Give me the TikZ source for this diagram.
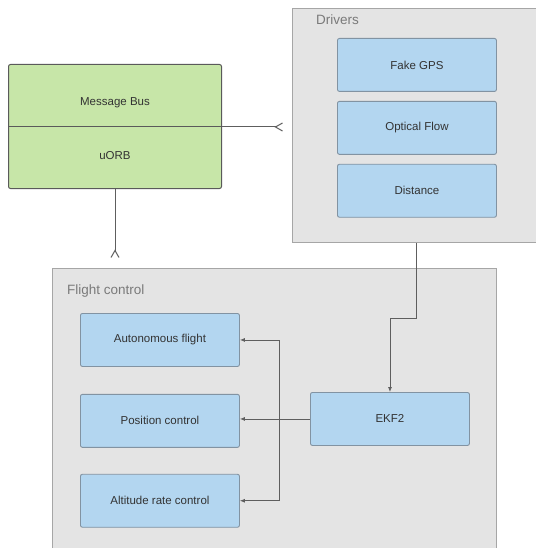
\documentclass[tikz,border=0pt]{standalone}
\usepackage{xcolor}
\usepackage{fontspec}
\setmainfont{Liberation Sans}
\usepackage{tikz}
\usetikzlibrary{arrows.meta,positioning}
\definecolor{busgreen}{HTML}{C7E6A8}
\definecolor{busline}{HTML}{5A5A5A}
\definecolor{boxblue}{HTML}{B3D6F0}
\definecolor{boxline}{HTML}{8293A2}
\definecolor{groupgray}{HTML}{E4E4E4}
\definecolor{groupline}{HTML}{A6A6A6}
\definecolor{wire}{HTML}{5E5E5E}
\definecolor{titlegray}{HTML}{7A7A7A}
\definecolor{textdark}{HTML}{333333}

\begin{document}
\begin{tikzpicture}[x=1pt, y=-1pt, node distance=9pt,
    group/.style={draw=groupline, fill=groupgray, line width=1pt, anchor=north west},
    grouptitle/.style={anchor=base west, inner sep=0pt, text=titlegray, font=\fontsize{13.5}{15}\selectfont},
    module/.style={draw=boxline, fill=boxblue, rounded corners=2pt, line width=0.9pt, minimum width=159pt, minimum height=53pt, text=textdark, font=\fontsize{11.5}{13}\selectfont},
    flow/.style={draw=wire, line width=0.8pt, -{Latex[length=5pt, width=4pt]}},
    crow/.style={draw=wire, line width=1pt, -{Straight Barb[reversed, length=7pt, width=8pt]}}]
        \useasboundingbox (0,0) rectangle (535,548);

        % Containers
        \node[group, minimum width=260pt, minimum height=234pt] (drivers) at (292,8) {};
        \node[grouptitle] (driverstitle) at (316,25) {Drivers};
        \node[group, minimum width=444pt, minimum height=300pt] (flightctl) at (52,268) {};
        \node[grouptitle] (flighttitle) at (67,294) {Flight control};

        % Message bus
        \node[draw=busline, fill=busgreen, rounded corners=2pt, line width=1pt, minimum width=213pt, minimum height=124pt, anchor=north west] (bus) at (8,64) {};
        \draw[busline, line width=1pt] (bus.west |- 0,127) -- (bus.east |- 0,127);
        \node[text=textdark, font=\fontsize{11.5}{13}\selectfont] (bustext) at (bus.center |- 0,103) {Message Bus};
        \node[text=textdark, font=\fontsize{11.5}{13}\selectfont] (uorb) at (bus.center |- 0,156) {uORB};

        % Drivers column
        \node[module, anchor=north west] (fakegps) at (337,38) {Fake GPS};
        \node[module, below=of fakegps] (optflow) {Optical Flow};
        \node[module, below=of optflow] (distance) {Distance};

        % Flight control column
        \node[module, anchor=north west] (autonomous) at (80,313) {Autonomous flight};
        \node[module, below=27pt of autonomous] (posctl) {Position control};
        \node[module, below=26pt of posctl] (altctl) {Altitude rate control};
        \node[module, anchor=north west] (ekf) at (310,392) {EKF2};

        % Connectors
        \coordinate (drvin) at (283,127);
        \coordinate (fcin) at (bus.south |- 0,258);
        \coordinate (split) at (279,0 |- ekf.west);
        \draw[crow] (bus.east |- drvin) -- (drvin);
        \draw[crow] (bus.south) -- (fcin);
        \draw[flow] (drivers.south -| 416,0) -- ++(0,75) -| (ekf.north);
        \draw[flow] (ekf.west) -- (ekf.west -| posctl.east);
        \draw[flow] (split) |- (autonomous.east);
        \draw[flow] (split) |- (altctl.east);
    \end{tikzpicture}
\end{document}
